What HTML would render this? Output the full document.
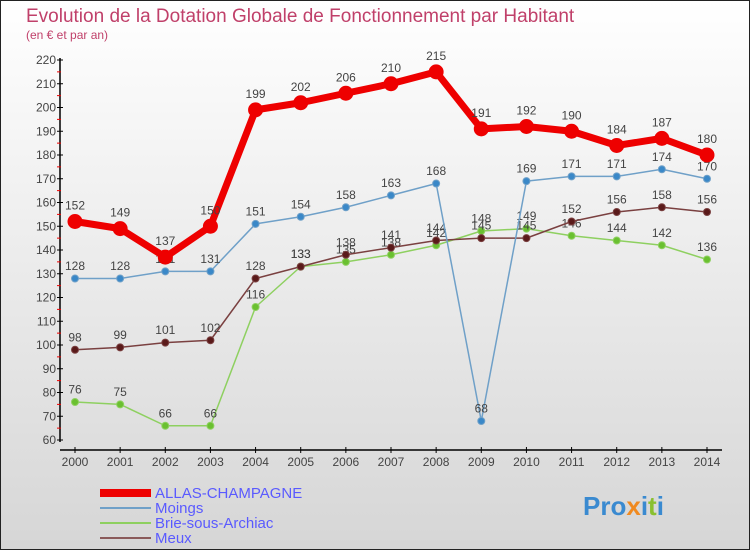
<!DOCTYPE html>
<html><head><meta charset="utf-8"><style>
body{margin:0;width:750px;height:550px;overflow:hidden;font-family:"Liberation Sans",sans-serif}
#wrap{position:absolute;left:0;top:0;width:748px;height:548px;border:1px solid #222;background:linear-gradient(#ffffff,#d6d6d6)}
</style></head><body>
<div id="wrap">
<svg id="chart" width="750" height="550" style="position:absolute;left:-1px;top:-1px">
<text x="26" y="22" font-size="19" fill="#c0406a">Evolution de la Dotation Globale de Fonctionnement par Habitant</text>
<text x="26" y="39" font-size="12" fill="#c0406a">(en € et par an)</text>
<g id="axes"></g><g id="series"></g>
<g>
<rect x="100" y="489" width="51" height="8" fill="#e00"/>
<text x="155" y="498" font-size="15" fill="#5a5aff">ALLAS-CHAMPAGNE</text>
<line x1="100" y1="508" x2="151" y2="508" stroke="#6fa0c8" stroke-width="2"/>
<text x="155" y="513" font-size="15" fill="#5a5aff">Moings</text>
<line x1="100" y1="523" x2="151" y2="523" stroke="#8ed060" stroke-width="2"/>
<text x="155" y="528" font-size="15" fill="#5a5aff">Brie-sous-Archiac</text>
<line x1="100" y1="538" x2="151" y2="538" stroke="#8a5a5a" stroke-width="2"/>
<text x="155" y="543" font-size="15" fill="#5a5aff">Meux</text>
</g>
<text x="583" y="515" font-size="26" font-weight="bold" fill="#3a8ad0">Pro<tspan fill="#f08a20">x</tspan>i<tspan fill="#8ac030">t</tspan>i</text>
</svg></div>
<script>
const years=[2000,2001,2002,2003,2004,2005,2006,2007,2008,2009,2010,2011,2012,2013,2014];
const allas=[152,149,137,150,199,202,206,210,215,191,192,190,184,187,180];
const moings=[128,128,131,131,151,154,158,163,168,68,169,171,171,174,170];
const brie=[76,75,66,66,116,133,135,138,142,148,149,146,144,142,136];
const meux=[98,99,101,102,128,133,138,141,144,145,145,152,156,158,156];
const yTicks=[60,70,80,90,100,110,120,130,140,150,160,170,180,190,200,210,220];
const NS="http://www.w3.org/2000/svg";
const X=i=>75+i*(632/14);
const Y=v=>440-(v-60)*2.375;
function mk(t,a,p){const e=document.createElementNS(NS,t);for(const k in a)e.setAttribute(k,a[k]);p.appendChild(e);return e;}
const ax=document.getElementById('axes');
let l=mk('line',{x1:60,y1:58,x2:60,y2:442,stroke:'#000','stroke-width':1.5},ax);


l=mk('line',{x1:60,y1:450,x2:722,y2:450,stroke:'#000','stroke-width':1.5},ax);


yTicks.forEach((v,i)=>{
 mk('line',{x1:57,y1:Y(v),x2:63,y2:Y(v),stroke:'#000'},ax);
 if(i<yTicks.length-1)mk('line',{x1:57,y1:Y(v+5),x2:61,y2:Y(v+5),stroke:'#e00'},ax);
 const t=mk('text',{x:56,y:Y(v)+4,'font-size':12,'text-anchor':'end',fill:'#444'},ax);t.textContent=v;
 
 
});
years.forEach((y,i)=>{
 mk('line',{x1:X(i),y1:447,x2:X(i),y2:453,stroke:'#000'},ax);
 const t=mk('text',{x:X(i),y:466,'font-size':12,'text-anchor':'middle',fill:'#444'},ax);t.textContent=y;
 
 
});
const sg=document.getElementById('series');
function draw(d,col,dot,w,r,name){
 const g=mk('g',{},sg);
 
 
 const p=mk('polyline',{points:d.map((v,i)=>X(i)+','+Y(v)).join(' '),fill:'none',stroke:col,'stroke-width':w,'stroke-linejoin':'round'},g);
 
 
 d.forEach((v,i)=>{
  const c=mk('circle',{cx:X(i),cy:Y(v),r:r,fill:dot,stroke:col,'stroke-width':1},g);
  
  
  const t=mk('text',{x:X(i),y:Y(v)-(r+5),'font-size':12,'text-anchor':'middle',fill:'#444'},g);t.textContent=v;
  
  
 });
}
draw(brie,'#8ed060','#6ac030',1.5,3.5,'brie');
draw(meux,'#7a4040','#5a1a1a',1.5,3.5,'meux');
draw(moings,'#6fa0c8','#3a88c8',1.5,3.5,'moings');
draw(allas,'#e00','#e00',7,7,'allas');
</script>
</body></html>
